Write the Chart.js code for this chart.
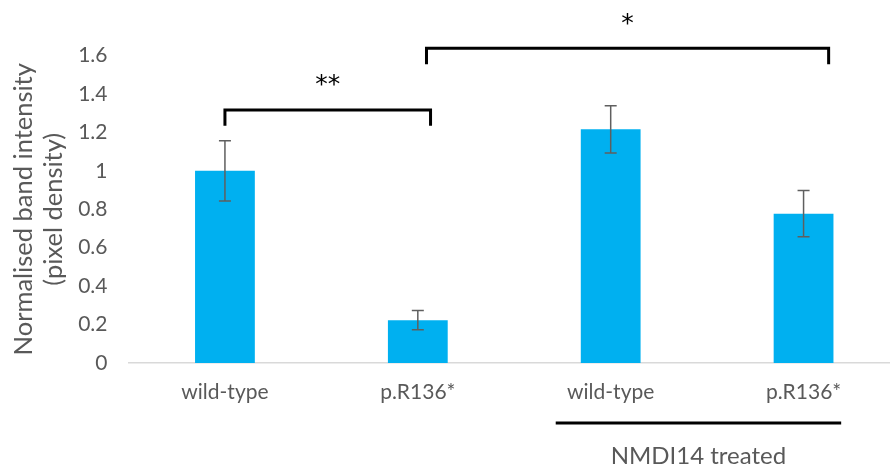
<!DOCTYPE html>
<html>
<head>
<meta charset="utf-8">
<script src="https://cdn.jsdelivr.net/npm/chart.js@4.4.1/dist/chart.umd.min.js"></script>
<style>
  html, body { margin: 0; padding: 0; background: #fff; overflow: hidden; }
  #wrap { width: 901px; height: 468px; position: relative; }
</style>
</head>
<body>
<div id="wrap"><canvas id="myChart"></canvas></div>
<script>
const categories = ["wild-type", "p.R136*", "wild-type", "p.R136*"];
const intensity = [1.0, 0.223, 1.216, 0.777];
const errors = [0.157, 0.05, 0.123, 0.12];
const yTicks = [0, 0.2, 0.4, 0.6, 0.8, 1, 1.2, 1.4, 1.6];

// significance brackets: [from index, to index, y of bar, y of leg ends, label]
const brackets = [
    [0, 1.066, 1.317, 1.235, "**"],
    [1.045, 3.13, 1.638, 1.555, "*"],
];
// group underline below the axis labels
const groupFrom = 1.715;
const groupTo = 3.195;
const groupLabel = "NMDI14 treated";

const grey = "#595959";
const font = "Lato, 'Open Sans', sans-serif";

const annotations = {
    id: "annotations",
    afterDatasetsDraw(chart) {
        const ctx = chart.ctx;
        const x = chart.scales.x;
        const y = chart.scales.y;
        ctx.save();

        // error bars
        ctx.strokeStyle = "#5f5f5f";
        ctx.lineWidth = 1.5;
        intensity.forEach((v, i) => {
            const px = x.getPixelForValue(i);
            const top = y.getPixelForValue(v + errors[i]);
            const bot = y.getPixelForValue(v - errors[i]);
            ctx.beginPath();
            ctx.moveTo(px, top);
            ctx.lineTo(px, bot);
            ctx.moveTo(px - 6, top);
            ctx.lineTo(px + 6, top);
            ctx.moveTo(px - 6, bot);
            ctx.lineTo(px + 6, bot);
            ctx.stroke();
        });

        // brackets
        ctx.strokeStyle = "#000";
        ctx.lineWidth = 3;
        ctx.fillStyle = "#000";
        ctx.font = "25px 'DejaVu Sans', sans-serif";
        ctx.textAlign = "center";
        ctx.textBaseline = "middle";
        for (const b of brackets) {
            const x1 = x.getPixelForValue(b[0]);
            const x2 = x.getPixelForValue(b[1]);
            const yb = y.getPixelForValue(b[2]);
            const yl = y.getPixelForValue(b[3]);
            ctx.beginPath();
            ctx.moveTo(x1, yl);
            ctx.lineTo(x1, yb);
            ctx.lineTo(x2, yb);
            ctx.lineTo(x2, yl);
            ctx.stroke();
            ctx.fillText(b[4], (x1 + x2) / 2, yb - 24);
        }

        // treated group underline
        const g1 = x.getPixelForValue(groupFrom);
        const g2 = x.getPixelForValue(groupTo);
        const gy = y.bottom + 60;
        ctx.beginPath();
        ctx.moveTo(g1, gy);
        ctx.lineTo(g2, gy);
        ctx.stroke();
        ctx.fillStyle = grey;
        ctx.font = "24px " + font;
        ctx.fillText(groupLabel, (g1 + g2) / 2, gy + 33);
        ctx.restore();
    }
};

const ctx = document.getElementById("myChart").getContext("2d");
new Chart(ctx, {
    type: "bar",
    data: {
        labels: categories,
        datasets: [{
            data: intensity,
            backgroundColor: "#00b0f0",
            borderWidth: 0,
            barPercentage: 0.62,
            categoryPercentage: 0.5,
        }],
    },
    options: {
        responsive: true,
        maintainAspectRatio: false,
        animation: false,
        layout: { padding: { top: 55.5, right: 1, left: 0, bottom: 0 } },
        plugins: {
            legend: { display: false },
            tooltip: { enabled: false },
        },
        scales: {
            x: {
                grid: { display: false, drawTicks: false },
                border: { color: "#d9d9d9", width: 1.5 },
                ticks: { color: grey, padding: 17, font: { family: font, size: 21 } },
                afterFit(scale) { scale.height = 105; },
            },
            y: {
                min: 0,
                max: 1.6,
                grid: { display: false, drawTicks: false },
                border: { display: false },
                afterBuildTicks(scale) { scale.ticks = yTicks.map(v => ({ value: v })); },
                ticks: {
                    color: grey,
                    padding: 21,
                    font: { family: font, size: 21 },
                    callback: v => String(v),
                },
                title: {
                    display: true,
                    text: ["Normalised band intensity", "(pixel density)"],
                    color: grey,
                    font: { family: font, size: 25.5 },
                    padding: { top: 8, bottom: 0 },
                },
                afterFit(scale) { scale.width = 128.5; },
            },
        },
    },
    plugins: [annotations],
});
</script>
</body>
</html>
